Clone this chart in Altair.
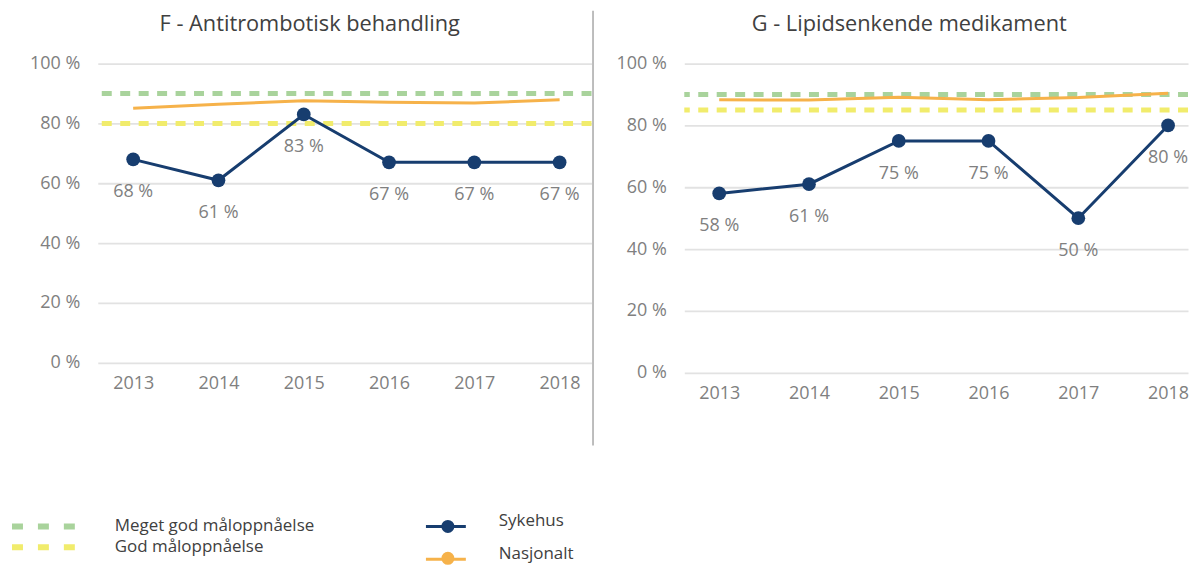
import altair as alt
import pandas as pd

years = [2013, 2014, 2015, 2016, 2017, 2018]
series_names = ["Sykehus", "Nasjonalt"]
target_names = ["Meget god måloppnåelse", "God måloppnåelse"]
y_ticks = [0, 20, 40, 60, 80, 100]

f_title = "F - Antitrombotisk behandling"
f_sykehus = [68, 61, 83, 67, 67, 67]
f_nasjonalt = [85.1, 86.4, 87.6, 87.1, 86.8, 87.9]
f_targets = [90, 80]

g_title = "G - Lipidsenkende medikament"
g_sykehus = [58, 61, 75, 75, 50, 80]
g_nasjonalt = [88.3, 88.2, 89.1, 88.3, 89.0, 90.4]
g_targets = [90, 85]

NAVY = "#173d6f"
ORANGE = "#f6b24a"
GREEN = "#a9d39c"
YELLOW = "#f1ec6c"
GRAY_TXT = "#808080"
DARK_TXT = "#404040"
FONT = "Open Sans"


def panel(title, syk, nas, targets, width, height, xdomain, dx, toffset, separator):
    s_df = pd.DataFrame({"year": years, "value": syk, "serie": series_names[0]})
    n_df = pd.DataFrame({"year": years, "value": nas, "serie": series_names[1]})
    lines_df = pd.concat([s_df, n_df])
    t_df = pd.DataFrame({"name": target_names, "value": targets})

    x = alt.X("year:Q", scale=alt.Scale(domain=xdomain, nice=False, zero=False),
              axis=alt.Axis(title=None, values=years, format="d", labelAngle=0,
                            ticks=False, domain=False, grid=False, labelFlush=False,
                            labelOverlap=False, labelPadding=12, labelFontSize=18,
                            labelColor=GRAY_TXT, labelFont=FONT))
    y = alt.Y("value:Q", scale=alt.Scale(domain=[0, 100]),
              axis=alt.Axis(title=None, values=y_ticks, labelExpr="datum.value + ' %'",
                            ticks=False, domain=False, grid=True, gridColor="#e2e2e2",
                            gridWidth=1.8, labelPadding=18, labelFontSize=18,
                            labelColor=GRAY_TXT, labelFont=FONT))

    rules = alt.Chart(t_df).mark_rule(strokeWidth=5, strokeDash=[10, 8.5]).encode(
        y=y,
        stroke=alt.Stroke("name:N",
                          scale=alt.Scale(domain=target_names, range=[GREEN, YELLOW]),
                          legend=alt.Legend(title=None, orient="none", legendX=-89, legendY=455,
                                            symbolType="stroke", symbolSize=3969,
                                            symbolStrokeWidth=6, symbolDash=[11, 15],
                                            labelFontSize=17, labelColor=DARK_TXT, labelFont=FONT,
                                            labelLimit=500, labelOffset=37, clipHeight=18,
                                            rowPadding=3, padding=0)),
    )
    lines = alt.Chart(lines_df).mark_line(strokeWidth=3).encode(
        x=x, y=y,
        color=alt.Color("serie:N",
                        scale=alt.Scale(domain=series_names, range=[NAVY, ORANGE]),
                        legend=alt.Legend(title=None, orient="none", legendX=327.5, legendY=451,
                                          symbolType="stroke", symbolSize=1600,
                                          symbolStrokeWidth=3, labelBaseline="alphabetic",
                                          labelFontSize=17, labelColor=DARK_TXT, labelFont=FONT,
                                          labelLimit=500, labelOffset=31.5, clipHeight=26,
                                          rowPadding=6, padding=0)),
    )
    # fill scale lists the same series in another order so that its legend (the dots)
    # stays separate from the line legend and can sit on top of it
    points = alt.Chart(s_df).mark_point(filled=True, size=190, opacity=1).encode(
        x=x, y=y,
        fill=alt.Fill("serie:N",
                      scale=alt.Scale(domain=series_names[::-1], range=[ORANGE, NAVY]),
                      legend=alt.Legend(title=None, orient="none", legendX=342.5, legendY=451,
                                        values=series_names, labelExpr="''",
                                        symbolType="circle", symbolSize=169,
                                        symbolStrokeWidth=0, labelOpacity=0,
                                        labelFontSize=17, clipHeight=26, rowPadding=6,
                                        padding=0)),
    )
    labels = alt.Chart(s_df).transform_calculate(
        label="datum.value + ' %'"
    ).mark_text(dy=33, fontSize=18, color=GRAY_TXT, font=FONT).encode(
        x=x, y=y, text="label:N"
    )
    layers = [rules, lines, points, labels]
    if separator:
        sep = alt.Chart(alt.Data(values=[{}])).mark_rule(color="#a8a8a8", strokeWidth=1.5).encode(
            x=alt.value(width + 1.5), y=alt.value(-53), y2=alt.value(383)
        )
        layers.append(sep)
    return alt.layer(*layers).properties(
        width=width, height=height,
        title=alt.TitleParams(title, anchor="middle", frame="group", dx=dx, offset=toffset,
                              fontSize=21.8, color=DARK_TXT, font=FONT, fontWeight="normal"),
    )


left = panel(f_title, f_sykehus, f_nasjonalt, f_targets, 495, 300,
             [2012.585, 2018.374], -35, -26, True)
right = panel(g_title, g_sykehus, g_nasjonalt, g_targets, 505, 310,
              [2012.611, 2018.222], -27, 19, False)

chart = alt.hconcat(left, right, spacing=21).properties(
    padding={"left": 1, "top": 1, "right": -1, "bottom": 0}
).configure(font=FONT).configure_view(stroke=None)

chart.save("out.html", embed_options={"renderer": "svg", "actions": False})
